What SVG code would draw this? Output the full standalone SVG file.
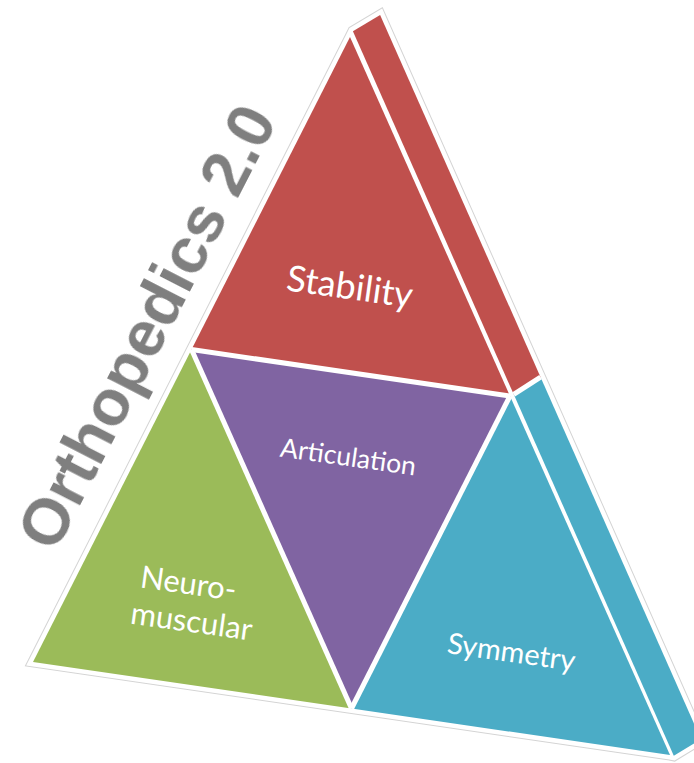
<svg xmlns="http://www.w3.org/2000/svg" width="694" height="763" viewBox="0 0 694 763">
<defs>
<style>
.lbl{font-family:Lato,"Open Sans","Liberation Sans",sans-serif;fill:#fff;text-anchor:middle}
.dv{stroke:#fff;stroke-width:5;fill:none}
.red{fill:#c0504d}
.cyan{fill:#4bacc6}
</style>
<filter id="soft" x="-10%" y="-10%" width="120%" height="120%"><feGaussianBlur stdDeviation="0.7"/></filter>
</defs>
<rect width="694" height="763" fill="#fff"/>
<g id="outline">
<polygon points="33,662 350,37 352.9,31.2 380.1,14.9 701,739.3 673.8,755.8 670,755" fill="#fff" stroke="#d4d4d4" stroke-width="11" stroke-linejoin="miter" stroke-miterlimit="10"/>
<polygon points="33,662 350,37 352.9,31.2 380.1,14.9 701,739.3 673.8,755.8 670,755" fill="#fff" stroke="#fff" stroke-width="9" stroke-linejoin="miter" stroke-miterlimit="10"/>
</g>
<g id="title">
<text transform="translate(55,554) rotate(-62.8)" font-family="'Liberation Sans',Arial,sans-serif" font-weight="bold" font-size="64" fill="#7f7f7f" textLength="488" lengthAdjust="spacingAndGlyphs" filter="url(#soft)">Orthopedics 2.0</text>
</g>
<g id="side-top"><polygon class="red" points="352.9,31.2 380.1,14.9 540.6,377.2 513.7,394.3"/></g>
<g id="side-bottom"><polygon class="cyan" points="513.7,394.3 540.6,377.2 701,739.3 673.8,755.8"/></g>
<g id="node-stability">
<polygon class="red" points="350,37 191.5,349.5 510,396"/>
<text class="lbl" font-size="36" transform="translate(348,299) rotate(8)">Stability</text>
</g>
<g id="node-neuromuscular">
<polygon fill="#9bbb59" points="191.5,349.5 33,662 351.5,708.5"/>
<text class="lbl" font-size="31" transform="translate(187,594) rotate(8)">Neuro-</text>
<text class="lbl" font-size="31" transform="translate(190,632) rotate(8)">muscular</text>
</g>
<g id="node-articulation">
<polygon fill="#8064a2" points="191.5,349.5 510,396 351.5,708.5"/>
<text class="lbl" font-size="26.5" transform="translate(347,466) rotate(8)">Articulation</text>
</g>
<g id="node-symmetry">
<polygon class="cyan" points="510,396 351.5,708.5 670,755"/>
<text class="lbl" font-size="29" transform="translate(510,662) rotate(8)">Symmetry</text>
</g>
<g id="dividers">
<line class="dv" x1="191.5" y1="349.5" x2="510" y2="396"/>
<line class="dv" x1="510" y1="396" x2="351.5" y2="708.5"/>
<line class="dv" x1="351.5" y1="708.5" x2="191.5" y2="349.5"/>
<line class="dv" stroke-width="7" x1="513.7" y1="394.3" x2="540.6" y2="377.2"/>
</g>
</svg>
